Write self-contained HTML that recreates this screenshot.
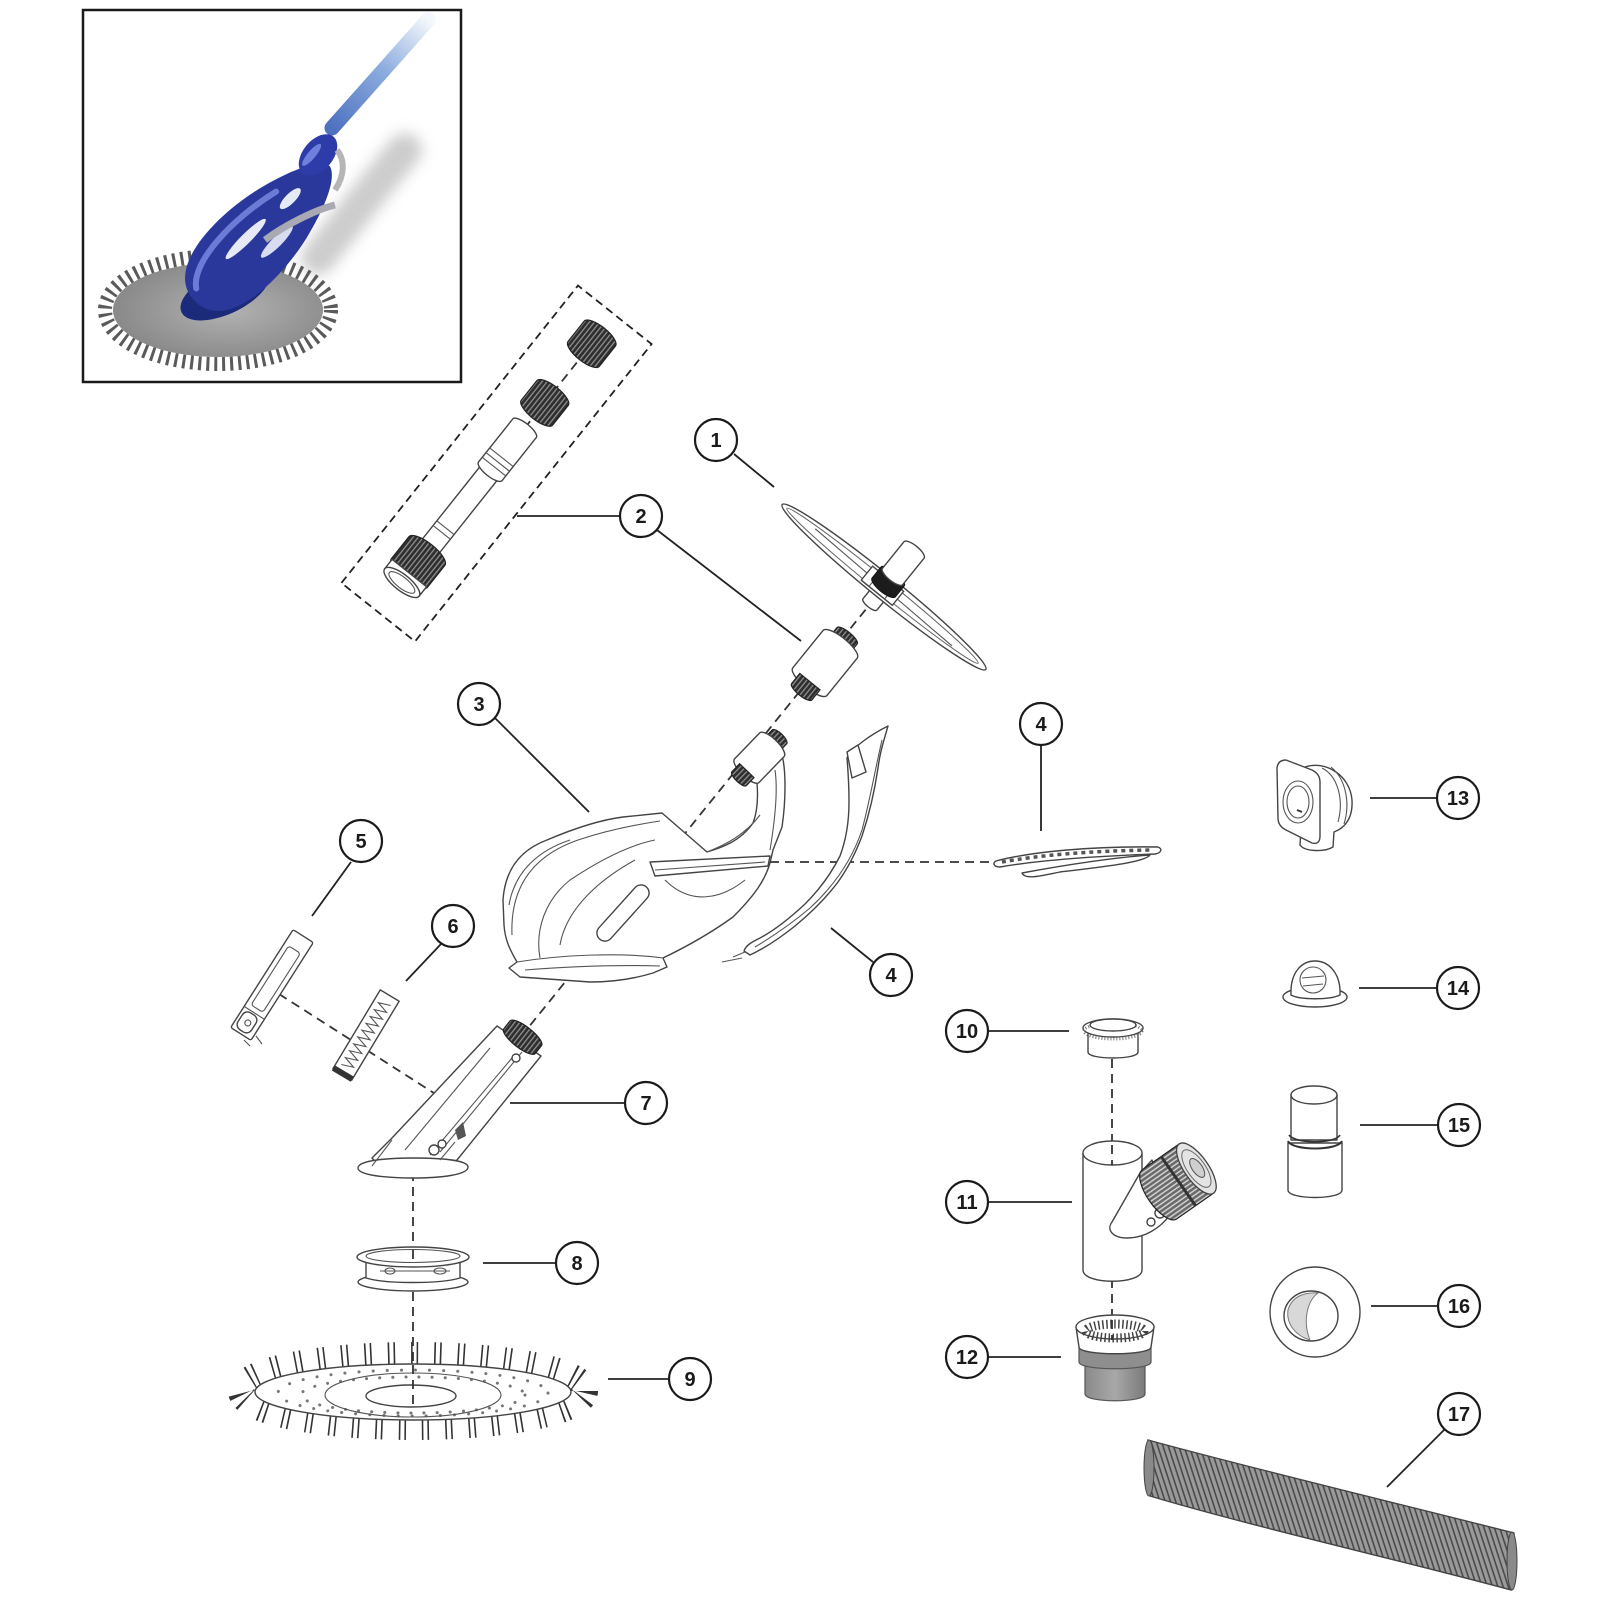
<!DOCTYPE html>
<html><head><meta charset="utf-8">
<style>
html,body{margin:0;padding:0;background:#fff;}
svg{display:block;}
.c{fill:#fff;stroke:#1a1a1a;stroke-width:2.2;}
.t{font-family:"Liberation Sans",Arial,sans-serif;font-size:20px;font-weight:bold;fill:#1a1a1a;text-anchor:middle;dominant-baseline:central;}
.l{stroke:#222;stroke-width:1.8;fill:none;}
.d{stroke:#333;stroke-width:1.8;fill:none;stroke-dasharray:9 6;}
.p{fill:#fff;stroke:#444;stroke-width:1.4;stroke-linejoin:round;}
.pn{fill:none;stroke:#555;stroke-width:1.1;}
.k{fill:url(#knurl);stroke:#222;stroke-width:1.2;}
</style></head><body>
<svg width="1600" height="1600" viewBox="0 0 1600 1600" xmlns="http://www.w3.org/2000/svg">
<defs>
<pattern id="knurl" width="4" height="4" patternUnits="userSpaceOnUse"><rect width="4" height="4" fill="#2e2e2e"/><rect width="4" height="1.3" fill="#8f8f8f"/></pattern>
<pattern id="knurl2" width="4" height="4" patternUnits="userSpaceOnUse"><rect width="4" height="4" fill="#6a6a6a"/><rect width="4" height="1.5" fill="#d0d0d0"/></pattern>
<pattern id="mesh" width="5" height="5" patternUnits="userSpaceOnUse" patternTransform="rotate(72)"><rect width="5" height="5" fill="#9a9a9a"/><rect width="5" height="1.6" fill="#4a4a4a"/></pattern>
<linearGradient id="hg" gradientUnits="userSpaceOnUse" x1="332" y1="128" x2="428" y2="20"><stop offset="0" stop-color="#4f72c0"/><stop offset="0.55" stop-color="#8eaee0"/><stop offset="1" stop-color="#f4f7fc"/></linearGradient>
<radialGradient id="dg" cx="0.55" cy="0.5" r="0.6"><stop offset="0" stop-color="#b2b2b2"/><stop offset="1" stop-color="#858585"/></radialGradient>
<linearGradient id="g12" x1="0" y1="0" x2="1" y2="0"><stop offset="0" stop-color="#8a8a8a"/><stop offset="0.5" stop-color="#a8a8a8"/><stop offset="1" stop-color="#7a7a7a"/></linearGradient>
<filter id="bl" x="-50%" y="-50%" width="200%" height="200%"><feGaussianBlur stdDeviation="7"/></filter>
<clipPath id="ic"><rect x="84" y="11" width="376" height="370"/></clipPath>
</defs>
<rect width="1600" height="1600" fill="#fff"/>

<!-- ================= INSET ================= -->
<g clip-path="url(#ic)">
 <path d="M318,258 C345,225 375,185 405,150" stroke="#c4c4c4" stroke-width="34" fill="none" stroke-linecap="round" filter="url(#bl)" opacity="0.85"/>
 <line x1="332" y1="128" x2="428" y2="20" stroke="url(#hg)" stroke-width="15" stroke-linecap="round"/>
 <ellipse cx="218" cy="310" rx="113" ry="54" fill="none" stroke="#5a5a5a" stroke-width="14" stroke-dasharray="3 5"/>
 <ellipse cx="218" cy="310" rx="105" ry="47" fill="url(#dg)"/>
 <ellipse cx="225" cy="292" rx="48" ry="22" fill="#1c2a7a" transform="rotate(-25 225 292)"/>
 <g transform="translate(262,234) rotate(-45)">
   <path d="M-95,0 C-95,-45 -20,-46 30,-34 C62,-26 92,-14 96,0 C92,14 62,26 30,34 C-20,46 -95,45 -95,0 Z" fill="#2a389c"/>
   <path d="M-85,-8 C-70,-30 -10,-32 40,-20" stroke="#6b7bd6" stroke-width="6" fill="none" stroke-linecap="round"/>
   <ellipse cx="-15" cy="-8" rx="28" ry="5" fill="#e6e9f6"/>
   <ellipse cx="5" cy="16" rx="22" ry="5" fill="#d8dcf0"/>
   <ellipse cx="45" cy="-5" rx="14" ry="5" fill="#e6e9f6"/>
 </g>
 <path d="M265,240 C285,225 315,210 335,205" stroke="#a9a9b3" stroke-width="7" fill="none"/>
 <g transform="translate(318,155) rotate(-50)"><ellipse rx="24" ry="15" fill="#2d3ca8"/><ellipse cx="-4" cy="-5" rx="14" ry="4" fill="#6f80dc"/></g>
 <path d="M337,150 C345,160 345,175 335,190" stroke="#b5b5b5" stroke-width="6" fill="none"/>
</g>
<rect x="83" y="10" width="378" height="372" fill="none" stroke="#1a1a1a" stroke-width="2.5"/>

<!-- ================= DASHED AXES ================= -->
<line class="d" x1="875" y1="598" x2="528" y2="1028"/>
<line class="d" x1="279" y1="994" x2="437" y2="1095"/>
<line class="d" x1="413" y1="1172" x2="413" y2="1405"/>
<line class="d" x1="770" y1="862" x2="996" y2="862"/>
<line class="d" x1="1112" y1="1059" x2="1112" y2="1166"/>
<line class="d" x1="1112" y1="1279" x2="1112" y2="1340"/>

<!-- ================= PART 2 ================= -->
<g transform="translate(496.5,463.5) rotate(-51.5)">
 <rect x="-190" y="-47" width="380" height="94" fill="none" stroke="#222" stroke-width="1.8" stroke-dasharray="8 5"/>
 <line class="d" x1="45" y1="0" x2="140" y2="0"/>
 <path class="p" d="M-118,-11 L-10,-11 L-10,11 L-118,11 Z"/>
 <line class="pn" x1="-88" y1="-11" x2="-88" y2="11"/>
 <line class="pn" x1="-82" y1="-11" x2="-82" y2="11"/>
 <path class="p" d="M-10,-15 L45,-15 A5 15 0 0 1 45,15 L-10,15 A5 15 0 0 1 -10,-15 Z"/>
 <line class="pn" x1="-4" y1="-15" x2="-4" y2="15"/>
 <line class="pn" x1="2" y1="-15" x2="2" y2="15"/>
 <line class="pn" x1="8" y1="-15" x2="8" y2="15"/>
 <path class="k" d="M65,-20 L90,-20 A7 20 0 0 1 90,20 L65,20 A7 20 0 0 1 65,-20 Z"/>
 <path class="k" d="M140,-20 L166,-20 A7 20 0 0 1 166,20 L140,20 A7 20 0 0 1 140,-20 Z"/>
 <path class="k" d="M-140,-23 L-112,-23 A8 23 0 0 1 -112,23 L-140,23 A8 23 0 0 1 -140,-23 Z"/>
 <path class="p" d="M-152,-22 L-140,-22 L-140,22 L-152,22 Z"/>
 <ellipse class="p" cx="-152" cy="0" rx="8" ry="22"/>
 <ellipse class="pn" cx="-152" cy="0" rx="5.5" ry="16"/>
</g>

<!-- ================= PART 1 WHEEL ================= -->
<g transform="translate(880,592) rotate(-51)">
 <path class="p" d="M-16,-9 L6,-9 L6,9 L-16,9 A3 9 0 0 1 -16,-9 Z"/>
</g>
<g transform="translate(884,587) rotate(39)">
 <ellipse class="p" rx="131" ry="12"/>
 <ellipse fill="none" stroke="#666" stroke-width="1" cx="-2" rx="123" ry="7"/>
 <path class="pn" d="M-90,-2 L90,3"/>
 <rect class="p" x="-22" y="-9" width="40" height="18"/>
 <line class="pn" x1="-12" y1="-9" x2="-12" y2="9"/>
 <line class="pn" x1="8" y1="-9" x2="8" y2="9"/>
</g>
<g transform="translate(880,592) rotate(-51)">
 <path fill="#1c1c1c" stroke="#111" d="M6,-15 L20,-15 A5 15 0 0 1 20,15 L6,15 A5 15 0 0 1 6,-15Z"/>
 <path class="p" d="M20,-13 L54,-13 A4.5 13 0 0 1 54,13 L20,13 A4.5 13 0 0 1 20,-13Z"/>
</g>

<!-- coupling -->
<g transform="translate(825,663) rotate(-51)">
 <path class="k" d="M22,-13 L35,-13 A4 13 0 0 1 35,13 L22,13 Z"/>
 <path class="p" d="M-24,-22 L24,-22 A7 22 0 0 1 24,22 L-24,22 A7 22 0 0 1 -24,-22 Z"/>
 <path class="k" d="M-37,-13 L-24,-13 L-24,13 L-37,13 A4 13 0 0 1 -37,-13 Z"/>
</g>

<!-- ================= PART 3 BODY ================= -->
<path class="p" d="M503,900 C505,870 520,850 547,840 C575,828 600,820 623,817 L662,813 L707,852 C720,848 740,842 753,823 C758,810 758,795 757,783 L782,755 C786,770 786,800 782,827 L773,850 L770,863 C765,880 755,895 733,917 C715,930 690,945 663,958 L667,967 L653,973 C630,980 610,982 590,982 L520,977 L509,968 L517,962 C510,950 505,940 504,925 Z"/>
<path class="pn" d="M512,935 C510,885 535,855 578,840 C608,830 640,824 660,821"/>
<path class="pn" d="M509,905 C515,870 540,850 570,840" stroke-width="3" stroke="#666"/>
<path class="pn" d="M540,958 C535,930 545,900 570,880 C600,860 630,845 655,840"/>
<path class="pn" d="M560,945 C565,915 590,885 635,860"/>
<path class="pn" d="M517,962 C560,955 620,952 663,958"/>
<path class="pn" d="M525,970 C575,966 625,965 660,966"/>
<g transform="translate(623,913) rotate(-48)"><rect class="p" x="-35" y="-8" width="70" height="16" rx="8"/></g>
<path class="p" d="M650,862 L770,856 L768,866 L655,876 Z"/>
<line class="pn" x1="655" y1="870" x2="765" y2="862"/>
<path class="pn" d="M665,880 C690,905 720,900 745,880"/>
<path class="pn" d="M707,852 C725,845 745,835 760,815"/>
<path class="pn" d="M770,850 C775,820 778,790 775,770"/>

<!-- second coupling -->
<g transform="translate(760,757) rotate(-46)">
 <path class="k" d="M17,-10 L28,-10 A3.5 10 0 0 1 28,10 L17,10 Z"/>
 <path class="p" d="M-19,-17 L17,-17 A6 17 0 0 1 17,17 L-19,17 A6 17 0 0 1 -19,-17 Z"/>
 <path class="k" d="M-30,-10 L-19,-10 L-19,10 L-30,10 A3.5 10 0 0 1 -30,-10 Z"/>
</g>

<!-- ================= PART 4 ARM ================= -->
<path class="p" d="M888,726 C884,740 880,752 878,768 C874,795 868,818 862,836 C856,852 848,868 838,882 C826,898 812,912 795,926 C780,938 765,948 750,955 L744,951 C746,945 752,942 760,938 C775,930 790,918 805,904 C820,889 832,872 840,856 C846,840 849,822 849,802 C849,785 848,770 847,758 C852,748 870,735 888,726 Z"/>
<path class="pn" d="M882,740 C875,770 870,800 862,830 C852,860 835,885 810,908 C790,925 770,938 755,947"/>
<path class="p" d="M847,752 L858,745 L866,772 L852,778 Z"/>
<path class="pn" d="M745,952 L733,957 M742,958 L722,962"/>

<!-- PART 4 STRIP -->
<path class="p" d="M996,861 C1030,852 1090,846 1158,847 C1163,849 1161,853 1155,854 C1100,856 1040,860 1000,867 C994,867 992,863 996,861 Z"/>
<path d="M1002,862 C1040,855 1090,851 1150,850" stroke="#555" stroke-width="3.5" fill="none" stroke-dasharray="4 4"/>
<path class="p" d="M1022,873 C1060,866 1110,858 1150,855 C1145,862 1110,866 1060,872 C1040,876 1025,880 1022,873 Z"/>

<!-- ================= PART 5 ================= -->
<g transform="translate(272,985) rotate(-57.5)">
 <rect class="p" x="-58" y="-12" width="116" height="24" rx="2"/>
 <rect class="pn" x="-28" y="-7" width="70" height="14" rx="3"/>
 <rect class="p" x="-55" y="-9" width="20" height="16" rx="6"/>
 <circle class="pn" cx="-45" cy="0" r="3"/>
 <line class="pn" x1="-33" y1="-12" x2="-33" y2="12"/>
</g>
<path class="pn" d="M244,1040 L250,1046 M256,1036 L262,1044"/>

<!-- ================= PART 6 ================= -->
<g transform="translate(366,1035) rotate(-59)">
 <rect class="p" x="-46" y="-11" width="92" height="22"/>
 <polyline class="pn" points="-38,-6 -34,6 -30,-6 -26,6 -22,-6 -18,6 -14,-6 -10,6 -6,-6 -2,6 2,-6 6,6 10,-6 14,6 18,-6 22,6 26,-6 30,6 34,-6 38,6"/>
 <rect fill="#333" x="-48" y="-11" width="6" height="22"/>
</g>

<!-- ================= PART 7 ================= -->
<path class="p" d="M497,1026 L541,1056 L457,1160 L447,1166 L378,1165 L372,1158 L392,1138 Z"/>
<line class="pn" x1="490" y1="1048" x2="405" y2="1150"/>
<line class="pn" x1="512" y1="1058" x2="430" y2="1155"/>
<line class="pn" x1="522" y1="1052" x2="440" y2="1152"/>
<circle class="p" cx="516" cy="1058" r="4"/>
<path fill="#555" d="M455,1130 L463,1122 L466,1136 L458,1140 Z"/>
<path class="p" d="M358,1168 C358,1160 390,1158 413,1158 C440,1158 468,1160 468,1167 C468,1175 440,1178 413,1178 C385,1178 358,1175 358,1168 Z"/>
<path class="pn" d="M372,1166 L392,1140 M440,1160 L455,1142"/>
<circle class="p" cx="434" cy="1150" r="5"/>
<circle class="p" cx="442" cy="1144" r="4"/>
<g transform="translate(522,1038) rotate(-52)"><path class="k" d="M-4,-20 L6,-20 A6 20 0 0 1 6,20 L-4,20 A6 20 0 0 1 -4,-20 Z"/></g>

<!-- ================= PART 8 ================= -->
<ellipse class="p" cx="413" cy="1282" rx="55" ry="9"/>
<path class="p" d="M366,1257 L460,1257 L460,1278 C440,1284 386,1284 366,1278 Z"/>
<ellipse class="pn" cx="390" cy="1271" rx="5" ry="3"/>
<ellipse class="pn" cx="440" cy="1271" rx="6" ry="3"/>
<line class="pn" x1="380" y1="1271" x2="450" y2="1271"/>
<ellipse class="p" cx="413" cy="1257" rx="56" ry="10"/>
<ellipse class="pn" cx="413" cy="1256" rx="47" ry="6.5"/>
<line class="d" x1="413" y1="1250" x2="413" y2="1262"/>

<!-- ================= PART 9 DISC ================= -->
<ellipse cx="413" cy="1391" rx="170" ry="34" fill="none" stroke="#333" stroke-width="30" stroke-dasharray="1.6 4 1.6 16"/>
<ellipse class="p" cx="413" cy="1392" rx="158" ry="28"/>
<ellipse cx="413" cy="1393" rx="135" ry="23" fill="none" stroke="#777" stroke-width="3" stroke-linecap="round" stroke-dasharray="0.1 14"/>
<ellipse cx="413" cy="1395" rx="112" ry="18" fill="none" stroke="#777" stroke-width="3" stroke-linecap="round" stroke-dasharray="0.1 13"/>
<ellipse class="pn" cx="413" cy="1395" rx="88" ry="22"/>
<ellipse class="p" cx="411" cy="1396" rx="45" ry="11"/>
<line class="d" x1="413" y1="1365" x2="413" y2="1405"/>

<!-- ================= PART 10 ================= -->
<path class="p" d="M1088,1030 L1088,1052 C1088,1060 1138,1060 1138,1052 L1138,1030 Z"/>
<ellipse class="p" cx="1113" cy="1028" rx="30" ry="9"/>
<ellipse fill="none" stroke="#777" stroke-width="3" stroke-dasharray="1 2" cx="1113" cy="1031" rx="29" ry="8"/>
<ellipse class="p" cx="1113" cy="1025" rx="23" ry="6"/>

<!-- ================= PART 11 ================= -->
<path class="p" d="M1083,1153 L1083,1270 C1083,1285 1142,1285 1142,1270 L1142,1153 Z"/>
<ellipse class="p" cx="1112.5" cy="1153" rx="29.5" ry="12"/>
<line class="d" x1="1112" y1="1145" x2="1112" y2="1165"/>
<path class="p" d="M1140,1173 L1152,1160 L1170,1215 C1160,1228 1145,1238 1127,1238 C1113,1238 1106,1230 1112,1222 Z"/>
<circle class="p" cx="1160" cy="1213" r="5"/>
<circle class="p" cx="1151" cy="1222" r="4"/>
<g transform="translate(1180,1180) rotate(-35)">
 <path class="k" style="fill:url(#knurl2)" d="M-25,-30 L20,-30 L20,30 L-25,30 A12 30 0 0 1 -25,-30 Z"/>
 <line x1="-2" y1="-30" x2="-2" y2="30" stroke="#333" stroke-width="3"/>
 <ellipse cx="20" cy="0" rx="12" ry="30" fill="#e4e4e4" stroke="#444" stroke-width="1.3"/>
 <ellipse cx="20" cy="0" rx="9" ry="22" fill="none" stroke="#666"/>
 <ellipse cx="21" cy="0" rx="5" ry="11" fill="#cfcfcf" stroke="#555"/>
</g>

<!-- ================= PART 12 ================= -->
<path fill="url(#g12)" stroke="#555" stroke-width="1.2" d="M1085,1362 L1085,1394 C1085,1403 1145,1403 1145,1394 L1145,1362 Z"/>
<path fill="#8e8e8e" stroke="#555" stroke-width="1.2" d="M1079,1345 L1079,1362 C1079,1371 1151,1371 1151,1362 L1151,1345 Z"/>
<path class="p" d="M1076,1327 L1079,1347 C1079,1356 1151,1356 1151,1347 L1154,1327 Z"/>
<ellipse class="p" cx="1115" cy="1327" rx="39" ry="12"/>
<ellipse fill="none" stroke="#444" stroke-width="9" stroke-dasharray="1.5 2.5" cx="1115" cy="1331" rx="29" ry="7"/>
<line class="d" x1="1112" y1="1320" x2="1112" y2="1340"/>

<!-- ================= PART 13 ================= -->
<path class="p" d="M1305,767 C1325,760 1350,775 1352,800 C1353,818 1345,828 1334,832 L1333,847 C1325,852 1305,852 1300,845 Z"/>
<path class="pn" d="M1322,768 C1338,776 1344,800 1338,822"/>
<path class="pn" d="M1331,767 C1347,780 1350,805 1344,824"/>
<path class="p" d="M1277,768 Q1278,760 1286,760 L1312,770 Q1320,774 1320,782 L1320,836 Q1320,845 1312,843 L1286,830 Q1278,826 1278,818 Z"/>
<ellipse class="pn" cx="1298" cy="802" rx="15" ry="21"/>
<ellipse class="pn" cx="1298" cy="802" rx="11" ry="16"/>
<line x1="1297" y1="810" x2="1302" y2="812" stroke="#333" stroke-width="2"/>

<!-- ================= PART 14 ================= -->
<ellipse class="p" cx="1315" cy="997" rx="32" ry="10"/>
<path class="p" d="M1291,995 C1290,972 1302,961 1315,961 C1330,961 1341,975 1340,995 C1330,1000 1300,1000 1291,995 Z"/>
<ellipse class="pn" cx="1313" cy="980" rx="13" ry="13"/>
<line class="pn" x1="1302" y1="978" x2="1324" y2="976"/>
<line class="pn" x1="1303" y1="986" x2="1323" y2="984"/>

<!-- ================= PART 15 ================= -->
<path class="p" d="M1288,1143 L1288,1190 C1288,1200 1342,1200 1342,1190 L1342,1143 Z"/>
<path class="p" d="M1291,1095 L1291,1140 L1337,1140 L1337,1095 Z"/>
<ellipse class="p" cx="1314" cy="1095" rx="23" ry="9"/>
<path d="M1289,1135 C1295,1144 1335,1144 1340,1135" stroke="#333" stroke-width="1.6" fill="none"/>
<path d="M1288,1141 C1292,1151 1338,1151 1342,1141" stroke="#333" stroke-width="2" fill="none"/>

<!-- ================= PART 16 ================= -->
<ellipse class="p" cx="1315" cy="1312" rx="45" ry="45"/>
<ellipse class="p" cx="1311" cy="1316" rx="27" ry="25"/>
<path d="M1288,1310 C1292,1296 1305,1292 1318,1293 C1308,1300 1302,1320 1310,1340 C1296,1336 1286,1324 1288,1310 Z" fill="#d8d8d8" stroke="#777" stroke-width="1"/>

<!-- ================= PART 17 HOSE ================= -->
<path fill="url(#mesh)" stroke="#444" stroke-width="1.4" d="M1148,1440 C1250,1468 1400,1504 1514,1533 L1511,1590 C1400,1560 1250,1526 1150,1496 Z"/>
<ellipse cx="1149" cy="1468" rx="5" ry="28" fill="#8a8a8a" stroke="#444"/>
<ellipse cx="1512" cy="1561" rx="5" ry="29" fill="#8a8a8a" stroke="#444"/>

<!-- ================= LEADERS ================= -->
<line class="l" x1="734" y1="454" x2="774" y2="487"/>
<line class="l" x1="517" y1="516" x2="621" y2="516"/>
<line class="l" x1="657" y1="530" x2="801" y2="641"/>
<line class="l" x1="494" y1="717" x2="589" y2="812"/>
<line class="l" x1="1041" y1="745" x2="1041" y2="831"/>
<line class="l" x1="831" y1="928" x2="873" y2="962"/>
<line class="l" x1="351" y1="862" x2="312" y2="916"/>
<line class="l" x1="441" y1="944" x2="406" y2="981"/>
<line class="l" x1="510" y1="1103" x2="625" y2="1103"/>
<line class="l" x1="483" y1="1263" x2="556" y2="1263"/>
<line class="l" x1="608" y1="1379" x2="669" y2="1379"/>
<line class="l" x1="988" y1="1031" x2="1069" y2="1031"/>
<line class="l" x1="988" y1="1202" x2="1072" y2="1202"/>
<line class="l" x1="988" y1="1357" x2="1061" y2="1357"/>
<line class="l" x1="1370" y1="798" x2="1437" y2="798"/>
<line class="l" x1="1359" y1="988" x2="1437" y2="988"/>
<line class="l" x1="1360" y1="1125" x2="1438" y2="1125"/>
<line class="l" x1="1371" y1="1306" x2="1438" y2="1306"/>
<line class="l" x1="1445" y1="1429" x2="1387" y2="1487"/>

<!-- ================= CALLOUTS ================= -->
<circle class="c" cx="716" cy="440" r="21"/><text class="t" x="716" y="441">1</text>
<circle class="c" cx="641" cy="516" r="21"/><text class="t" x="641" y="517">2</text>
<circle class="c" cx="479" cy="704" r="21"/><text class="t" x="479" y="705">3</text>
<circle class="c" cx="1041" cy="724" r="21"/><text class="t" x="1041" y="725">4</text>
<circle class="c" cx="891" cy="975" r="21"/><text class="t" x="891" y="976">4</text>
<circle class="c" cx="361" cy="841" r="21"/><text class="t" x="361" y="842">5</text>
<circle class="c" cx="453" cy="926" r="21"/><text class="t" x="453" y="927">6</text>
<circle class="c" cx="646" cy="1103" r="21"/><text class="t" x="646" y="1104">7</text>
<circle class="c" cx="577" cy="1263" r="21"/><text class="t" x="577" y="1264">8</text>
<circle class="c" cx="690" cy="1379" r="21"/><text class="t" x="690" y="1380">9</text>
<circle class="c" cx="967" cy="1031" r="21"/><text class="t" x="967" y="1032">10</text>
<circle class="c" cx="967" cy="1202" r="21"/><text class="t" x="967" y="1203">11</text>
<circle class="c" cx="967" cy="1357" r="21"/><text class="t" x="967" y="1358">12</text>
<circle class="c" cx="1458" cy="798" r="21"/><text class="t" x="1458" y="799">13</text>
<circle class="c" cx="1458" cy="988" r="21"/><text class="t" x="1458" y="989">14</text>
<circle class="c" cx="1459" cy="1125" r="21"/><text class="t" x="1459" y="1126">15</text>
<circle class="c" cx="1459" cy="1306" r="21"/><text class="t" x="1459" y="1307">16</text>
<circle class="c" cx="1459" cy="1414" r="21"/><text class="t" x="1459" y="1415">17</text>
</svg>
</body></html>
